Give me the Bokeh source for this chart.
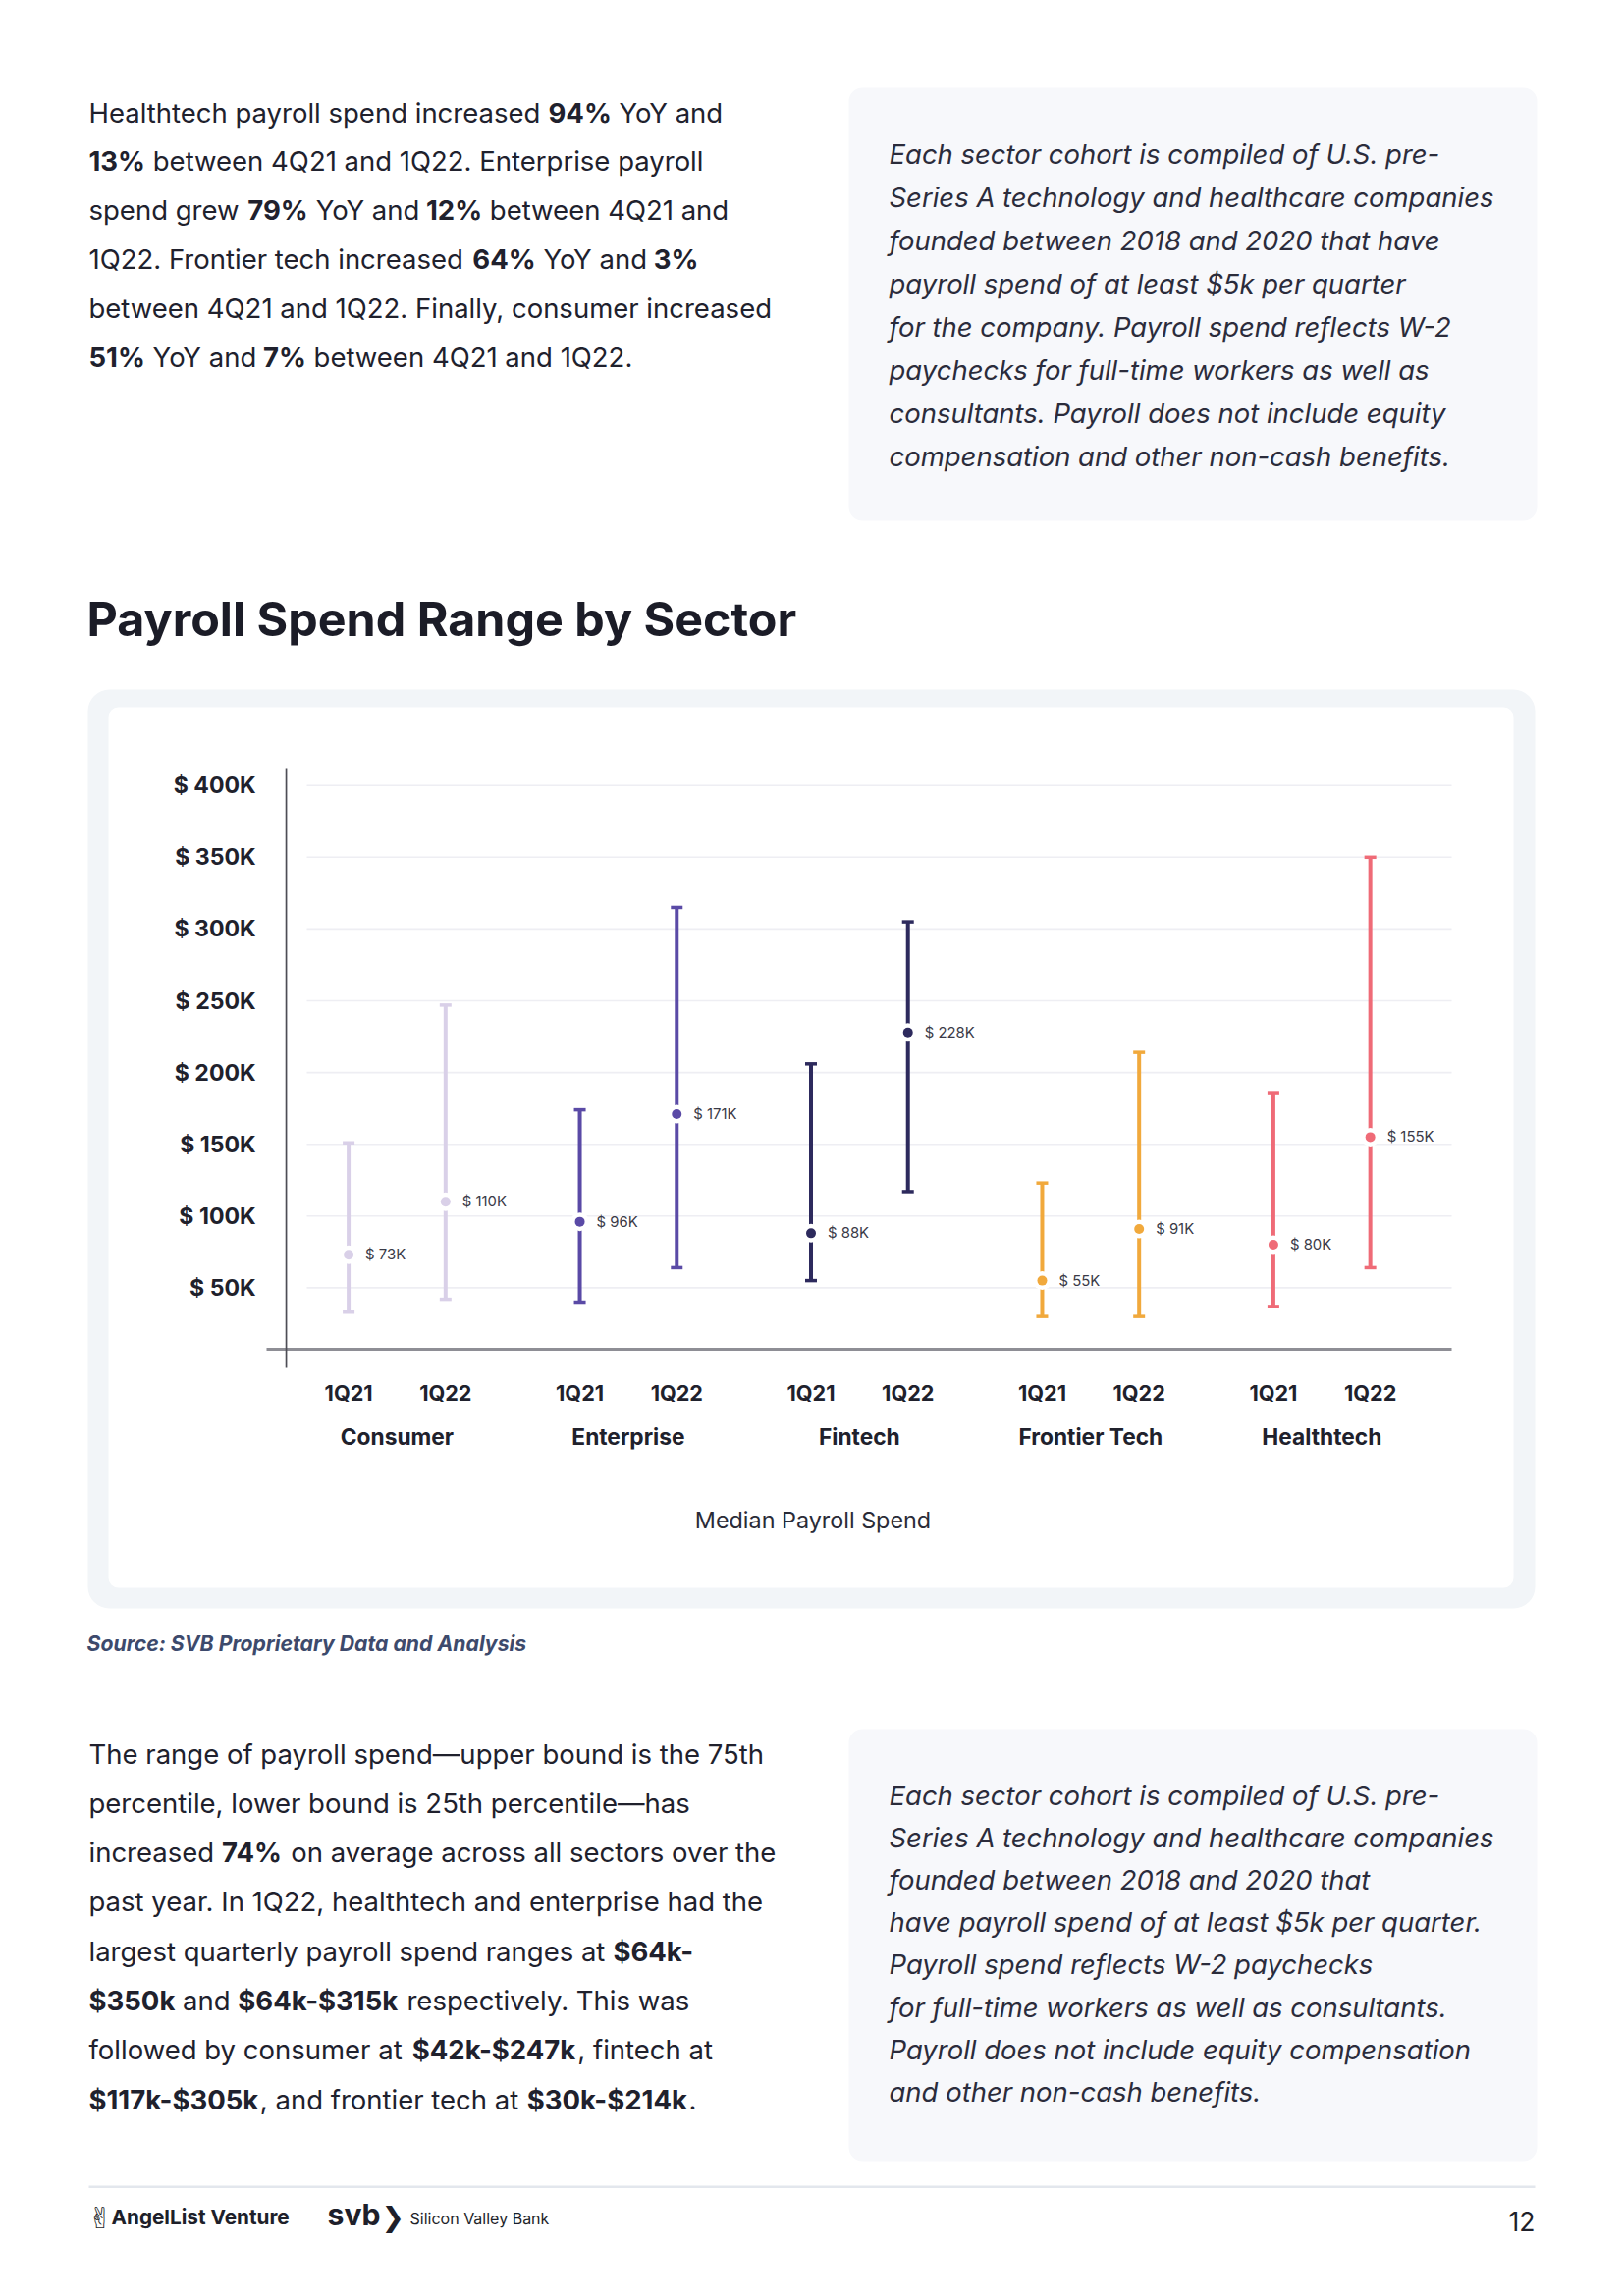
import os, glob, struct
from bokeh.plotting import figure
from bokeh.models import (FactorRange, Range1d, Label, BoxAnnotation, FixedTicker,
                          CategoricalAxis, ColumnDataSource, CustomJSTickFormatter)
from bokeh.core.properties import value
from bokeh.embed import file_html
from bokeh.resources import INLINE

# ---------------- data ----------------
sectors = ["Consumer", "Enterprise", "Fintech", "Frontier Tech", "Healthtech"]
quarters = ["1Q21", "1Q22"]
low_1q21 = [33, 40, 55, 30, 37]
high_1q21 = [151, 174, 206, 123, 186]
median_1q21 = [73, 96, 88, 55, 80]
low_1q22 = [42, 64, 117, 30, 64]
high_1q22 = [247, 315, 305, 214, 350]
median_1q22 = [110, 171, 228, 91, 155]
y_ticks = [50, 100, 150, 200, 250, 300, 350, 400]
sector_colors = ["#d9d0e8", "#5a4aa6", "#2d2a5d", "#f1a93c", "#ef6b77"]

# ---------------- font metrics (for placing bold runs inside a line) ----------------
def _tables(data, base):
    n = struct.unpack(">H", data[base + 4:base + 6])[0]
    t = {}
    for i in range(n):
        tag, _cs, off, ln = struct.unpack(">4sIII", data[base + 12 + 16 * i: base + 28 + 16 * i])
        t[tag.decode("latin1")] = (off, ln)
    return t

def load_metrics(path):
    data = open(path, "rb").read()
    base = struct.unpack(">I", data[12:16])[0] if data[:4] == b"ttcf" else 0
    t = _tables(data, base)
    ho = t["head"][0]
    upem = struct.unpack(">H", data[ho + 18:ho + 20])[0]
    hh = t["hhea"][0]
    nhm = struct.unpack(">H", data[hh + 34:hh + 36])[0]
    mo = t["hmtx"][0]
    adv = struct.unpack(">%dH" % (2 * nhm), data[mo:mo + 4 * nhm])[0::2]
    co = t["cmap"][0]
    n = struct.unpack(">H", data[co + 2:co + 4])[0]
    s4 = s12 = None
    for i in range(n):
        pid, eid, so = struct.unpack(">HHI", data[co + 4 + 8 * i: co + 12 + 8 * i])
        fmt = struct.unpack(">H", data[co + so:co + so + 2])[0]
        if fmt == 12 and s12 is None:
            s12 = co + so
        if fmt == 4 and s4 is None and (pid == 0 or (pid == 3 and eid == 1)):
            s4 = co + so
    cmap = {}
    LIM = 0x2FFF
    if s12 is not None:
        ng = struct.unpack(">I", data[s12 + 12:s12 + 16])[0]
        for g in range(ng):
            s, e, gid = struct.unpack(">III", data[s12 + 16 + 12 * g: s12 + 28 + 12 * g])
            if s > LIM:
                continue
            for c in range(s, min(e, LIM) + 1):
                cmap[c] = gid + c - s
    elif s4 is not None:
        b = s4
        sx2 = struct.unpack(">H", data[b + 6:b + 8])[0]
        sc = sx2 // 2
        ends = struct.unpack(">%dH" % sc, data[b + 14:b + 14 + sx2])
        starts = struct.unpack(">%dH" % sc, data[b + 16 + sx2:b + 16 + 2 * sx2])
        deltas = struct.unpack(">%dh" % sc, data[b + 16 + 2 * sx2:b + 16 + 3 * sx2])
        rp = b + 16 + 3 * sx2
        ros = struct.unpack(">%dH" % sc, data[rp:rp + sx2])
        for i in range(sc):
            s, e = starts[i], ends[i]
            if s > LIM:
                continue
            for c in range(s, min(e, LIM) + 1):
                if ros[i] == 0:
                    gid = (c + deltas[i]) & 0xFFFF
                else:
                    a = rp + 2 * i + ros[i] + 2 * (c - s)
                    gid = struct.unpack(">H", data[a:a + 2])[0]
                    if gid:
                        gid = (gid + deltas[i]) & 0xFFFF
                cmap[c] = gid
    w = {}
    for c, gid in cmap.items():
        w[chr(c)] = adv[min(gid, nhm - 1)] / upem
    return w, ("fvar" in t)

def font_files():
    res = []
    for d in ["/usr/share/fonts", "/usr/local/share/fonts",
              os.path.expanduser("~/.fonts"), os.path.expanduser("~/.local/share/fonts")]:
        for ext in ("ttf", "otf", "TTF", "OTF"):
            res += glob.glob(os.path.join(d, "**", "*." + ext), recursive=True)
    return res

def pick(files, must, prefer, avoid):
    best, bs = None, 0
    for f in files:
        b = os.path.basename(f).lower()
        if not b.startswith(must) or any(a in b for a in avoid):
            continue
        sc = 0
        for i, wd in enumerate(prefer):
            if wd in b:
                sc = max(sc, len(prefer) - i)
        if sc > bs:
            best, bs = f, sc
    return best

F = "Inter"
METRICS = {}
try:
    files = font_files()
    cand = [
        ("Inter", "inter",
         (["-regular.", "_18pt-regular.", "regular", "variable", "[opsz", "[wght"],
          ["italic", "display", "tight", "bold", "light", "thin", "medium", "semi", "black", "extra"]),
         (["-bold.", "_18pt-bold.", "bold"], ["italic", "display", "extra", "semi"]),
         (["-italic.", "_18pt-italic.", "italic"], ["display", "bold", "light", "thin", "medium", "semi", "black", "extra"])),
        ("Liberation Sans", "liberationsans-",
         (["regular"], ["bold", "italic"]), (["-bold."], ["italic"]), (["-italic."], ["bold"])),
    ]
    for fam, must, rp, bp, ip in cand:
        rf = pick(files, must, *rp)
        if rf is None:
            continue
        F = fam
        reg, var = load_metrics(rf)
        METRICS["normal"] = reg
        bf = pick(files, must, *bp)
        if bf is not None and not (bf == rf):
            METRICS["bold"] = load_metrics(bf)[0]
        else:
            METRICS["bold"] = {k: v * 1.06 for k, v in reg.items()}
        itf = pick(files, must, *ip)
        METRICS["italic"] = load_metrics(itf)[0] if itf else reg
        break
except Exception:
    METRICS = {}

KERN = {"Yo": -0.1, "oY": -0.1}   # strong kerning pairs the browser applies

def tw(text, style="normal"):
    tab = METRICS.get(style) or METRICS.get("normal")
    fb = {"normal": 0.53, "bold": 0.57, "italic": 0.52}.get(style, 0.53)
    if not tab:
        w = fb * len(text)
    else:
        w = sum(tab.get(ch, fb) for ch in text)
    w += sum(KERN.get(text[i:i + 2], 0.0) for i in range(len(text) - 1))
    return w

def segw(segs):
    return sum(tw(t, "bold" if b else "normal") for t, b in segs)

# ---------------- page layout constants (page pixel coords; canvas sits at page 0,0) ----------------
H = 2330
Y0, PXK = 1384.5, 1.462           # page y of $0K, px per $1K
X_AXIS_K = (Y0 - 1374) / PXK      # value where the x axis line sits
UNIT = 98.7                       # px per categorical unit
R0 = 305.15                       # page x of the left edge of the first real factor
GROUP_PAD = 0.385
INK = "#20212d"
DY = -3                           # text baseline correction

TOT = len(sectors) * len(quarters) + (len(sectors) - 1) * GROUP_PAD
LEAD = 1 + GROUP_PAD              # one blank spacer factor on the left + its group gap
PAD = R0 / UNIT - LEAD            # symmetric range padding
W = int(round((2 * PAD + LEAD + TOT) * UNIT))
UNIT_E = W / (2 * PAD + LEAD + TOT)

def sx(X):
    """page-pixel x -> synthetic coordinate of the categorical x range"""
    return -PAD + X / UNIT_E

xs = [(s, q) for s in sectors for q in quarters]
lows = [v for pr in zip(low_1q21, low_1q22) for v in pr]
highs = [v for pr in zip(high_1q21, high_1q22) for v in pr]
meds = [v for pr in zip(median_1q21, median_1q22) for v in pr]
cols = [c for c in sector_colors for _ in quarters]
src = ColumnDataSource(dict(x=xs, low=lows, high=highs, med=meds, color=cols,
                            label=["$ %dK" % m for m in meds]))

xr = FactorRange(*([(" ", " ")] + xs), factor_padding=0.0, group_padding=GROUP_PAD,
                 range_padding=PAD, range_padding_units="absolute")
yr = Range1d((Y0 - H) / PXK, Y0 / PXK)

p = figure(width=W, height=H, x_range=xr, y_range=yr, output_backend="svg",
           toolbar_location=None, tools="",
           min_border_left=0, min_border_right=0, min_border_top=0, min_border_bottom=0)
p.extra_y_ranges = {"pg": Range1d(H, 0)}
p.outline_line_color = None
p.background_fill_color = "white"
p.border_fill_color = "white"
p.xgrid.visible = False
p.ygrid.visible = False

# ---------------- sizes calibrated to the reference text widths ----------------
top_lines = [
    [("Healthtech payroll spend increased ", 0), ("94%", 1), (" YoY and", 0)],
    [("13%", 1), (" between 4Q21 and 1Q22. Enterprise payroll", 0)],
    [("spend grew ", 0), ("79%", 1), (" YoY and ", 0), ("12%", 1), (" between 4Q21 and", 0)],
    [("1Q22. Frontier tech increased ", 0), ("64%", 1), (" YoY and ", 0), ("3%", 1)],
    [("between 4Q21 and 1Q22. Finally, consumer increased", 0)],
    [("51%", 1), (" YoY and ", 0), ("7%", 1), (" between 4Q21 and 1Q22.", 0)],
]
bottom_lines = [
    [("The range of payroll spend\u2014upper bound is the 75th", 0)],
    [("percentile, lower bound is 25th percentile\u2014has", 0)],
    [("increased ", 0), ("74%", 1), (" on average across all sectors over the", 0)],
    [("past year. In 1Q22, healthtech and enterprise had the", 0)],
    [("largest quarterly payroll spend ranges at ", 0), ("$64k-", 1)],
    [("$350k", 1), (" and ", 0), ("$64k-$315k", 1), (" respectively. This was", 0)],
    [("followed by consumer at ", 0), ("$42k-$247k", 1), (", fintech at", 0)],
    [("$117k-$305k", 1), (", and frontier tech at ", 0), ("$30k-$214k", 1), (".", 0)],
]
box1_lines = ["Each sector cohort is compiled of U.S. pre-",
              "Series A technology and healthcare companies",
              "founded between 2018 and 2020 that have",
              "payroll spend of at least $5k per quarter",
              "for the company. Payroll spend reflects W-2",
              "paychecks for full-time workers as well as",
              "consultants. Payroll does not include equity",
              "compensation and other non-cash benefits."]
box2_lines = ["Each sector cohort is compiled of U.S. pre-",
              "Series A technology and healthcare companies",
              "founded between 2018 and 2020 that",
              "have payroll spend of at least $5k per quarter.",
              "Payroll spend reflects W-2 paychecks",
              "for full-time workers as well as consultants.",
              "Payroll does not include equity compensation",
              "and other non-cash benefits."]

body_size = (643 / segw(top_lines[0]) + 701 / segw(top_lines[4]) +
             692.6 / segw(bottom_lines[0]) + 695.8 / segw(bottom_lines[2])) / 4
ital_size = (618.8 / tw(box1_lines[1], "italic") + 574.5 / tw(box1_lines[4], "italic") +
             594.6 / tw(box2_lines[6], "italic")) / 3
title_size = 727 / tw("Payroll Spend Range by Sector", "bold")
ytick_size = 84 / tw("$ 400K", "bold")
xtick_size = 49 / tw("1Q21", "bold")
group_size = (115 / tw("Consumer", "bold") + 150 / tw("Frontier Tech", "bold")) / 2
axl_size = 241 / tw("Median Payroll Spend")
med_size = 51 / tw("$ 228K")
src_size = 447 / tw("Source: SVB Proprietary Data and Analysis", "italic") * 0.97

def px(v):
    return "%.2fpx" % v

# ---------------- background boxes ----------------
def box(l, r, t, b, color, rad=0, level="underlay"):
    p.add_layout(BoxAnnotation(left=sx(l), right=sx(r), top=t, bottom=b, y_range_name="pg",
                               fill_color=color, fill_alpha=1.0, line_color=None,
                               border_radius=rad, level=level))

box(864, 1565, 89, 530, "#f7f8fb", 14)
box(864, 1565, 1761, 2201, "#f7f8fb", 14)
box(89, 1563, 702, 1638, "#f2f5f8", 22)
box(110, 1541, 720, 1617, "#ffffff", 10)
box(90, 1563, 2226, 2228.5, "#e3e7ed")

# gridlines (start right of the y axis line)
for t in y_ticks:
    p.add_layout(BoxAnnotation(left=sx(312), right=sx(1478), bottom=t - 0.55, top=t + 0.55,
                               fill_color="#eeeef3", fill_alpha=1.0, line_color=None, level="underlay"))
# axis lines
box(271, 1478, 1372.5, 1375.5, "#8e8e95", level="annotation")
box(290.2, 291.9, 782, 1393, "#4d4d55", level="annotation")

# ---------------- texts ----------------
def lab(x, y, text, size, style="normal", color=INK, align="left", font=None):
    p.add_layout(Label(x=sx(x), y=y, y_range_name="pg", text=text,
                       text_font=font or F, text_font_size=px(size), text_font_style=style,
                       text_color=color, text_align=align, text_baseline="middle"))

def runs(x0, y, segs, size, color=INK):
    x = x0
    for txt, b in segs:
        st = "bold" if b else "normal"
        lead = len(txt) - len(txt.lstrip(" "))
        core = txt.strip(" ")
        if core:
            lab(x + tw(" " * lead, st) * size, y, core, size, st, color)
        x += tw(txt, st) * size

for i, segs in enumerate(top_lines):
    runs(90, 117 + 49.8 * i + DY, segs, body_size)
for i, segs in enumerate(bottom_lines):
    runs(90, 1789 + 50.3 * i + DY, segs, body_size)
for i, t in enumerate(box1_lines):
    lab(905, 159 + 44.0 * i + DY, t, ital_size, "italic", "#2b2c3b")
for i, t in enumerate(box2_lines):
    lab(905, 1831 + 43.2 * i + DY, t, ital_size, "italic", "#2b2c3b")

lab(88, 629.5, "Payroll Spend Range by Sector", title_size, "bold", "#1b1c27")
lab(88, 1673, "Source: SVB Proprietary Data and Analysis", src_size, "bold italic", "#3d4a6c")
lab(827.5, 1548, "Median Payroll Spend", axl_size, "normal", "#2a2b37", "center")

# footer
lab(89, 2259, "\u270c", 30, "normal", "#1e1f2a", font="DejaVu Sans")
lab(113, 2258, "AngelList Venture", 183 / tw("AngelList Venture", "bold"), "bold", "#1e1f2a")
lab(333, 2255, "svb", 54 / tw("svb", "bold"), "bold", "#1e1f2a")
lab(388, 2258, "\u276f", 28, "bold", "#1e1f2a", font="DejaVu Sans")
lab(417, 2259, "Silicon Valley Bank", 143 / tw("Silicon Valley Bank"), "normal", "#1e1f2a")
lab(1563, 2262, "12", 27 / tw("12"), "normal", "#1e1f2a", "right")

# ---------------- chart marks ----------------
p.segment(x0="x", x1="x", y0="low", y1="high", source=src, line_color="color", line_width=4)
for fld in ("low", "high"):
    p.rect(x="x", y=fld, width=12, height=3.5, width_units="screen", height_units="screen",
           source=src, fill_color="color", line_color=None)
p.scatter(x="x", y="med", size=19, fill_color="white", line_color=None, source=src)
p.scatter(x="x", y="med", size=10, fill_color="color", line_color=None, source=src)
p.text(x="x", y="med", text="label", x_offset=17, text_baseline="middle", text_align="left",
       text_font=value(F), text_font_size=px(med_size), text_color="#3a3a47", source=src)

# ---------------- axes (fixed inside the page-sized frame) ----------------
ya = p.yaxis[0]
ya.fixed_location = sx(R0)
ya.ticker = FixedTicker(ticks=y_ticks)
ya.formatter = CustomJSTickFormatter(code="return '$ ' + tick + 'K'")
ya.axis_line_color = None
ya.major_tick_line_color = None
ya.minor_tick_line_color = None
ya.major_tick_out = 0
ya.major_tick_in = 0
ya.major_label_standoff = int(R0 - 260)
ya.major_label_text_font = F
ya.major_label_text_font_style = "bold"
ya.major_label_text_font_size = px(ytick_size)
ya.major_label_text_color = "#20212c"

xa = p.xaxis[0]
xa.fixed_location = X_AXIS_K
xa.axis_line_color = None
xa.major_tick_line_color = None
xa.minor_tick_line_color = None
xa.major_tick_out = 0
xa.major_tick_in = 0
xa.major_label_standoff = 31
xa.major_label_text_font = F
xa.major_label_text_font_style = "bold"
xa.major_label_text_font_size = px(xtick_size)
xa.major_label_text_color = "#20212c"
xa.group_text_font_size = "1px"
xa.group_text_alpha = 0
xa.separator_line_color = None

xa2 = CategoricalAxis(fixed_location=X_AXIS_K)
xa2.axis_line_color = None
xa2.major_tick_line_color = None
xa2.minor_tick_line_color = None
xa2.major_tick_out = 0
xa2.major_tick_in = 0
xa2.major_label_text_font_size = "1px"
xa2.major_label_text_alpha = 0
xa2.major_label_standoff = 75
xa2.group_text_font = F
xa2.group_text_font_style = "bold"
xa2.group_text_font_size = px(group_size)
xa2.group_text_color = "#20212c"
xa2.separator_line_color = None
p.add_layout(xa2, "below")

open("out.html", "w").write(file_html(p, INLINE))
